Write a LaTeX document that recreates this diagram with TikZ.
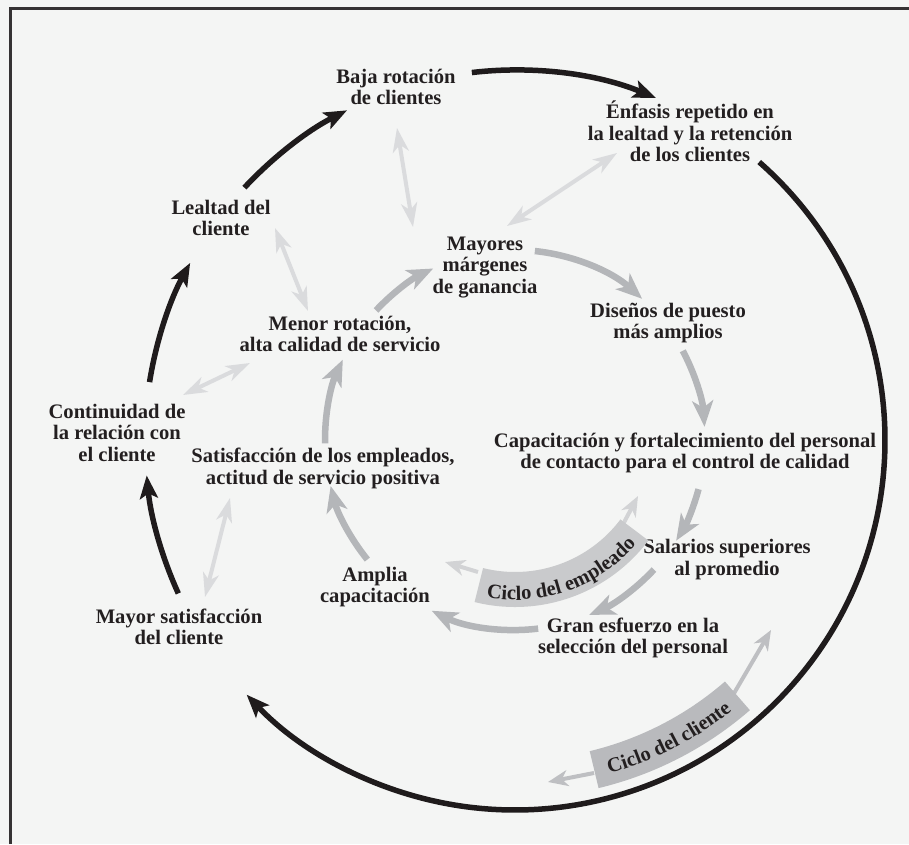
\documentclass[tikz,border=0pt]{standalone}
\usepackage{fontspec}
\setmainfont{Liberation Serif}
\usetikzlibrary{arrows.meta,calc,decorations.text}
\definecolor{bg}{HTML}{F4F5F4}
\definecolor{txt}{HTML}{231F20}
\definecolor{innerg}{HTML}{B4B6B9}
\definecolor{lightg}{HTML}{DADBDD}
\definecolor{bandE}{HTML}{C9CACC}
\definecolor{bandC}{HTML}{B9BABD}
\definecolor{arrE}{HTML}{D2D3D5}
\definecolor{arrC}{HTML}{BEBFC2}
\definecolor{blk}{HTML}{1F1B1C}
\tikzset{
  lbl/.style={font=\bfseries\fontsize{20.6}{21.5}\selectfont, text=txt, align=center, inner sep=0pt},
  bigarr/.style={line width=5.5pt, draw=blk, -{Stealth[length=23pt,width=18pt,inset=5pt]}},
  innarr/.style={line width=6.5pt, draw=innerg, -{Stealth[length=26pt,width=21pt,inset=7pt]}},
  dblarr/.style={line width=4pt, draw=lightg, {Stealth[length=24pt,width=16pt,inset=7pt]}-{Stealth[length=24pt,width=16pt,inset=7pt]}},
  bandarrE/.style={line width=4pt, draw=arrE, -{Stealth[length=20pt,width=16pt,inset=6pt]}},
  bandarrC/.style={line width=4pt, draw=arrC, -{Stealth[length=20pt,width=16pt,inset=6pt]}},
}
\begin{document}
\begin{tikzpicture}[x=1pt,y=1pt]
\useasboundingbox (0,0) rectangle (909,844);
\fill[bg] (0,0) rectangle (909,844);
\draw[line width=3pt, draw=blk!90] (10.5,0) -- (10.5,835) -- (909,835);

\coordinate (C) at (515,404);

% text nodes
\node[lbl] (baja) at (396,757) {Baja rotación\\de clientes};
\node[lbl] (enfasis) at (690,712.5) {Énfasis repetido en\\la lealtad y la retención\\de los clientes};
\node[lbl] (lealtad) at (221,626) {Lealtad del\\cliente};
\node[lbl] (mayores) at (485,576.6) {Mayores\\márgenes\\de ganancia};
\node[lbl] (disenos) at (668,521) {Diseños de puesto\\más amplios};
\node[lbl] (menor) at (340,510) {Menor rotación,\\alta calidad de servicio};
\node[lbl] (continuidad) at (117,411.5) {Continuidad de\\la relación con\\el cliente};
\node[lbl] (satisf) at (323,375.4) {Satisfacción de los empleados,\\actitud de servicio positiva};
\node[lbl] (capac) at (685,391.3) {Capacitación y fortalecimiento del personal\\de contacto para el control de calidad};
\node[lbl] (salarios) at (727,284.3) {Salarios superiores\\al promedio};
\node[lbl] (amplia) at (375,257) {Amplia\\capacitación};
\node[lbl] (gran) at (633,206) {Gran esfuerzo en la\\selección del personal};
\node[lbl] (mayorsat) at (179,217) {Mayor satisfacción\\del cliente};

% customer cycle (outer black circle)
\draw[bigarr] ($(C)+(96.7:370)$) arc[start angle=96.7, end angle=67.6, radius=370];
\draw[bigarr] ($(C)+(48.7:370)$) arc[start angle=48.7, end angle=-136.5, radius=370];
\draw[bigarr] ($(C)+(204.5:370)$) arc[start angle=204.5, end angle=185.5, radius=370];
\draw[bigarr] ($(C)+(171:370)$) arc[start angle=171, end angle=151.4, radius=370];
\draw[bigarr] ($(C)+(137:370)$) arc[start angle=137, end angle=117, radius=370];

% employee cycle (inner gray circle)
\draw[innarr] ($(C)+(137:190)$) arc[start angle=137, end angle=115.5, radius=190];
\draw[innarr] ($(C)+(84:190)$) arc[start angle=84, end angle=48, radius=190];
\draw[innarr] ($(C)+(28:190)$) arc[start angle=28, end angle=4, radius=190];
\draw[innarr] ($(C)+(-15:190)$) arc[start angle=-15, end angle=-32, radius=190];
\draw[innarr] ($(C)+(-43:190)$) arc[start angle=-43, end angle=-67, radius=190];
\draw[innarr] ($(C)+(-83:190)$) arc[start angle=-83, end angle=-116, radius=190];
\draw[innarr] ($(C)+(-141:190)$) arc[start angle=-141, end angle=-166, radius=190];
\draw[innarr] ($(C)+(181:190)$) arc[start angle=181, end angle=155, radius=190];

% light double links
\coordinate (d1a) at (397,716); \coordinate (d1b) at (413,617);
\coordinate (d2a) at (617,691); \coordinate (d2b) at (507,618);
\coordinate (d3a) at (275,616); \coordinate (d3b) at (308,533);
\coordinate (d4a) at (183,449); \coordinate (d4b) at (250,481);
\coordinate (d5a) at (230,346); \coordinate (d5b) at (205,247);
\draw[dblarr] (d1a) -- (d1b);
\draw[dblarr] (d2a) -- (d2b);
\draw[dblarr] (d3a) -- (d3b);
\draw[dblarr] (d4a) -- (d4b);
\draw[dblarr] (d5a) -- (d5b);

% employee cycle banner
\coordinate (eL0) at (478,272); \coordinate (eL1) at (445,282);
\coordinate (eR0) at (620,314); \coordinate (eR1) at (638,348);
\draw[bandarrE] (eL0) -- (eL1);
\draw[bandarrE] (eR0) -- (eR1);
\fill[bandE] ($(C)+(-104:132)$) arc[start angle=-104, end angle=-37, radius=132]
  -- ($(C)+(-37:167)$) arc[start angle=-37, end angle=-104, radius=167] -- cycle;
\path[decorate, decoration={text along path, text align=center, text color=txt,
  text={|\bfseries\fontsize{20.5}{20.5}\selectfont|Ciclo del empleado}}]
  ($(C)+(-106:160)$) arc[start angle=-106, end angle=-35, radius=160];

% customer cycle banner
\coordinate (cL0) at (594,71); \coordinate (cL1) at (548,62);
\coordinate (cR0) at (733,149); \coordinate (cR1) at (771,214);
\draw[bandarrC] (cL0) -- (cL1);
\draw[bandarrC] (cR0) -- (cR1);
\fill[bandC] ($(C)+(-76.5:320)$) arc[start angle=-76.5, end angle=-49, radius=320]
  -- ($(C)+(-49:358)$) arc[start angle=-49, end angle=-76.5, radius=358] -- cycle;
\path[decorate, decoration={text along path, text align=center, text color=txt,
  text={|\bfseries\fontsize{20.5}{20.5}\selectfont|Ciclo del cliente}}]
  ($(C)+(-77:347)$) arc[start angle=-77, end angle=-48.5, radius=347];
\end{tikzpicture}
\end{document}
